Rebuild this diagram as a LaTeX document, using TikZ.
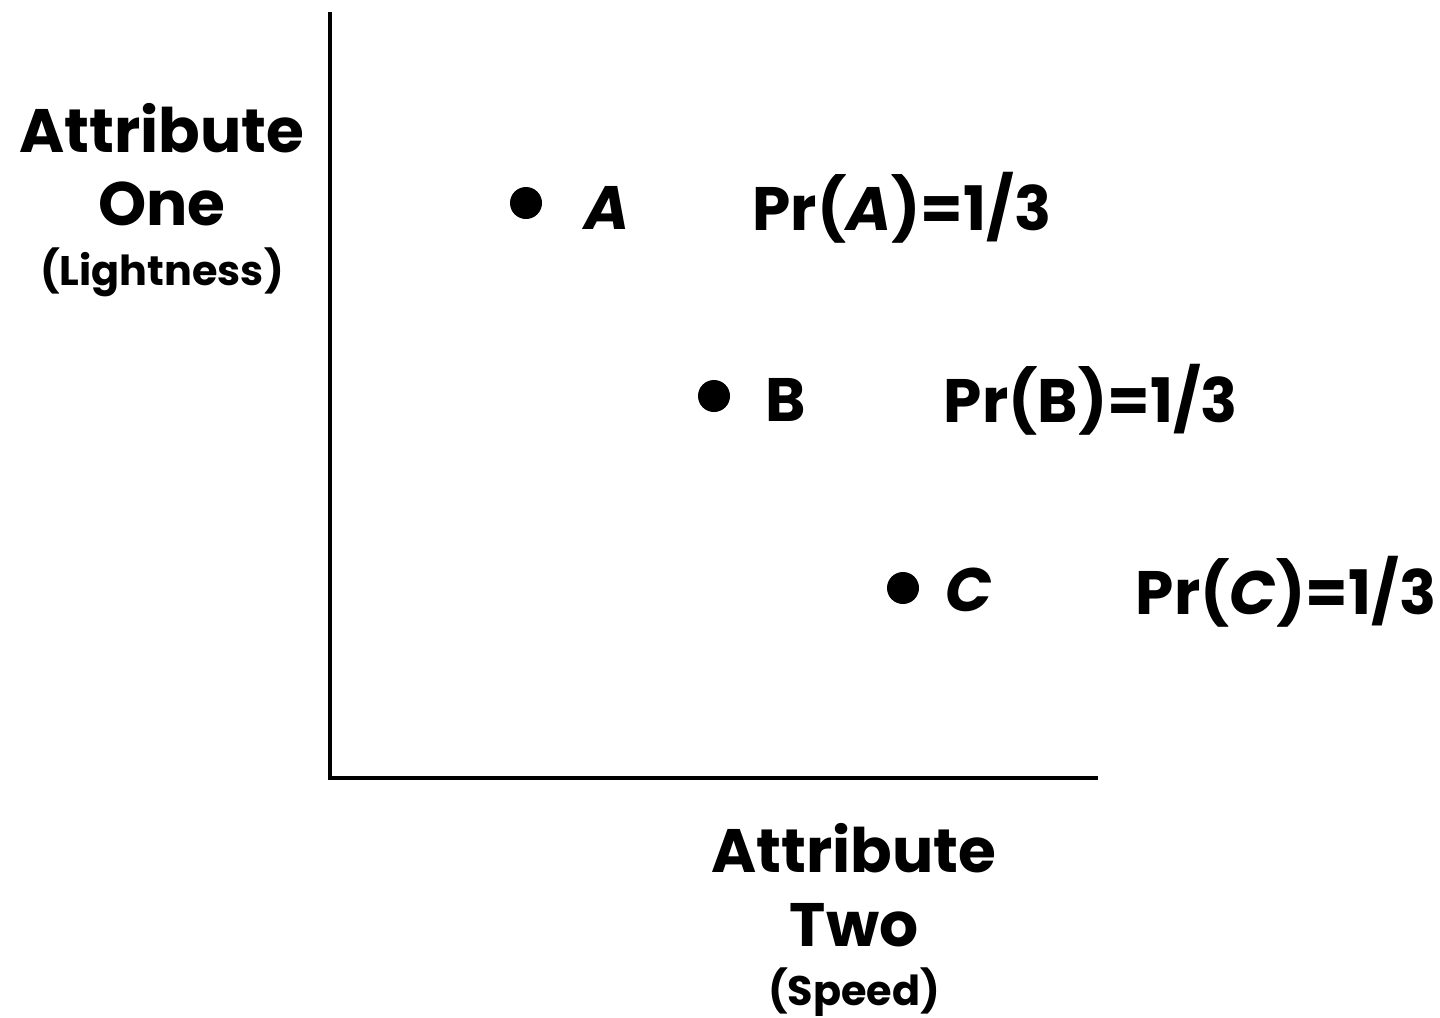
\documentclass[tikz,border=0pt]{standalone}
\usepackage{fontspec}
\setmainfont{Poppins}[BoldFont={* Bold},ItalicFont={* Italic},BoldItalicFont={* Bold Italic}]
\begin{document}
\begin{tikzpicture}[x=0.75pt,y=-0.75pt,
  axis/.style={line width=3pt},
  pt/.style={circle,fill=black,inner sep=0pt,minimum size=24pt},
  big/.style={font=\bfseries\fontsize{46}{52}\selectfont,inner sep=0pt},
  small/.style={font=\bfseries\fontsize{31}{35}\selectfont,inner sep=0pt}]
\useasboundingbox (0,0) rectangle (1440,1018);
\coordinate (top) at (330,12);
\coordinate (origin) at (330,778);
\coordinate (right) at (1098,778);
\draw[axis] (top) -- (origin) -- (right);
\node[big] (y1) at (162,128) {Attribute};
\node[big] (y2) at (162,204) {One};
\node[small] (y3) at (162,272) {(Lightness)};
\node[big] (x1) at (854,848) {Attribute};
\node[big] (x2) at (854,925) {Two};
\node[small] (x3) at (854,992) {(Speed)};
\node[pt] (a) at (526,203) {};
\node[pt] (b) at (714,396) {};
\node[pt] (c) at (903,588) {};
\node[big] (la) at (607,208) {\itshape A};
\node[big] (lb) at (786,400) {B};
\node[big] (lc) at (969,590) {\itshape C};
\node[big] (pa) at (902,208) {Pr(\textit{A})=1/3};
\node[big] (pb) at (1091,400) {Pr(B)=1/3};
\node[big] (pc) at (1286,592) {Pr(\textit{C})=1/3};
\end{tikzpicture}
\end{document}
